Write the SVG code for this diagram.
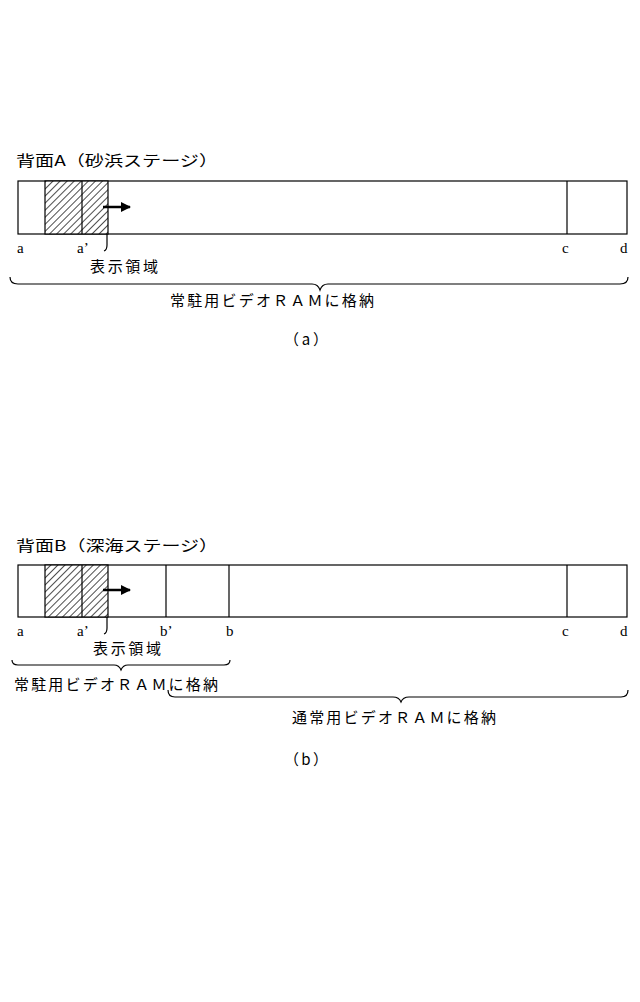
<svg xmlns="http://www.w3.org/2000/svg" width="640" height="1002" viewBox="0 0 640 1002">
<style>
text{font-family:"Liberation Serif","Noto Sans CJK JP",serif;font-size:15px;fill:#000}
.j{font-family:"Noto Sans CJK JP",sans-serif;font-size:15px}
.b{fill:none;stroke:#000;stroke-width:1.2}
.h{fill:url(#hat);stroke:#000;stroke-width:1.2}
</style>
<defs>
<pattern id="hat" patternUnits="userSpaceOnUse" width="5" height="5" patternTransform="rotate(45)">
<rect width="5" height="5" fill="#fff"/><line x1="0" y1="0" x2="0" y2="5" stroke="#000" stroke-width="1.4"/>
</pattern>
<marker id="ar" viewBox="0 0 10 10" refX="9" refY="5" markerWidth="4" markerHeight="4" orient="auto"><path d="M0 0L10 5L0 10z"/></marker>
</defs>
<rect width="640" height="1002" fill="#fff"/>
<g id="panelA">
<text class="j" x="16" y="166" textLength="202" lengthAdjust="spacingAndGlyphs">背面A（砂浜ステージ）</text>
<rect class="b" x="18" y="181" width="609" height="53"/>
<rect class="h" x="45" y="181" width="63" height="53"/>
<line class="b" x1="82" y1="181" x2="82" y2="234"/>
<line class="b" x1="567" y1="181" x2="567" y2="234"/>
<line x1="103" y1="207" x2="130" y2="207" stroke="#000" stroke-width="2.5" marker-end="url(#ar)"/>
<path class="b" d="M107 234 V245 Q107 250 104 251"/>
<text x="17" y="253">a</text><text x="77" y="253">a’</text><text x="562" y="253">c</text><text x="620" y="253">d</text>
<text class="j" x="90" y="272" textLength="68">表示領域</text>
<path class="b" d="M10 277 Q10 284 18 284 H312 Q318 284 320 290 Q322 284 328 284 H620 Q628 284 628 277"/>
<text class="j" x="170" y="306" textLength="204">常駐用ビデオＲＡＭに格納</text>
<text class="j" x="284" y="345" textLength="44">（a）</text>
</g>
<g id="panelB">
<text class="j" x="16" y="551" textLength="202" lengthAdjust="spacingAndGlyphs">背面B（深海ステージ）</text>
<rect class="b" x="18" y="565" width="609" height="52"/>
<rect class="h" x="45" y="565" width="63" height="52"/>
<line class="b" x1="82" y1="565" x2="82" y2="617"/>
<line class="b" x1="166" y1="565" x2="166" y2="617"/>
<line class="b" x1="229" y1="565" x2="229" y2="617"/>
<line class="b" x1="567" y1="565" x2="567" y2="617"/>
<line x1="103" y1="590" x2="130" y2="590" stroke="#000" stroke-width="2.5" marker-end="url(#ar)"/>
<path class="b" d="M107 617 V628 Q107 633 104 634"/>
<text x="17" y="636">a</text><text x="77" y="636">a’</text><text x="160" y="636">b’</text><text x="226" y="636">b</text><text x="562" y="636">c</text><text x="620" y="636">d</text>
<text class="j" x="93" y="654" textLength="68">表示領域</text>
<path class="b" d="M12 660 Q12 665 18 665 H114 Q119 665 121 670 Q123 665 128 665 H224 Q230 665 230 660"/>
<text class="j" x="14" y="690" textLength="204">常駐用ビデオＲＡＭに格納</text>
<path class="b" d="M168 690 Q168 697 175 697 H393 Q399 697 401 702 Q403 697 409 697 H621 Q628 697 628 690"/>
<text class="j" x="292" y="723" textLength="204">通常用ビデオＲＡＭに格納</text>
<text class="j" x="284" y="765" textLength="44">（b）</text>
</g>
</svg>
